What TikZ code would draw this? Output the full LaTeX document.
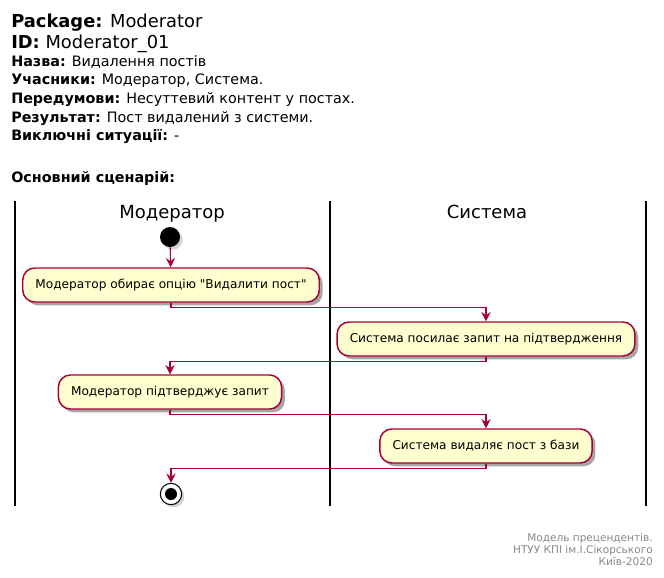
\documentclass[tikz,border=0pt]{standalone}
\usepackage{fontspec}
\setmainfont{DejaVu Sans}
\newfontfamily\plainq{DejaVu Sans}
\usepackage{tikz}
\usetikzlibrary{arrows.meta,shapes,shadows}
\definecolor{actfill}{HTML}{FEFECE}
\definecolor{actline}{HTML}{A80036}
\definecolor{notegray}{HTML}{888888}
\newcommand{\dq}{{\plainq\char34}}
\tikzstyle{activity}=[rectangle, draw=actline, fill=actfill
,line width=1.1pt
,rounded corners=9pt
,minimum height=25.5pt
,inner xsep=9.5pt
,font=\fontsize{9.1}{11}\selectfont
,drop shadow={shadow xshift=2.5pt, shadow yshift=-2.5pt, opacity=0.35, fill=black}
]
\tikzstyle{startnode}=[circle, fill=black, minimum size=15pt, inner sep=0pt
,drop shadow={shadow xshift=2pt, shadow yshift=-2pt, opacity=0.35}]
\tikzstyle{endnode}=[circle, draw=black, fill=white, line width=0.8pt, minimum size=16pt, inner sep=0pt
,drop shadow={shadow xshift=2pt, shadow yshift=-2pt, opacity=0.35}]
\tikzstyle{endcore}=[circle, fill=black, minimum size=9pt, inner sep=0pt]
\tikzstyle{flow} = [draw=actline, line width=0.8pt, -{Stealth[length=7pt,width=7pt,inset=2.5pt]}]
\tikzstyle{lane} = [draw, line width=1.2pt, -]
\tikzstyle{headline}=[anchor=base west, inner sep=0pt]

\begin{document}
\begin{tikzpicture}[x=0.75pt,y=-0.75pt]
    \useasboundingbox (0,0) rectangle (664,578);
    % Header of the use case
    \node[headline, font=\fontsize{13.4}{15}\selectfont] (pkg) at (11,27) {\textbf{Package:} Moderator};
    \node[headline, font=\fontsize{13.4}{15}\selectfont] (id) at (11,48) {\textbf{ID:} Moderator\_01};
    \foreach \y/\key/\val/\name in {66/Назва/{Видалення постів}/title, 84/Учасники/{Модератор, Система.}/actors,
        103/Передумови/{Несуттевий контент у постах.}/pre, 122/Результат/{Пост видалений з системи.}/post,
        140/Виключні ситуації/{-}/exc}
        \node[headline, font=\fontsize{10.75}{12}\selectfont] (\name) at (11,\y) {\textbf{\key:} \val};
    \node[headline, font=\fontsize{10.75}{12}\selectfont] (scen) at (11,182) {\textbf{Основний сценарій:}};

    % Swimlanes
    \foreach \x in {15,330,646}
        \path[lane] (\x,201) -- (\x,506);
    \node[anchor=base, inner sep=0pt, font=\fontsize{13.5}{15}\selectfont] (lmod) at (172,218) {Модератор};
    \node[anchor=base, inner sep=0pt, font=\fontsize{13.5}{15}\selectfont] (lsys) at (487,218) {Система};

    % Activities
    \node[startnode] (start) at (170,237) {};
    \node[activity] (act1) at (171,285) {Модератор обирає опцію \dq Видалити пост\dq};
    \node[activity] (act2) at (486,339) {Система посилає запит на підтвердження};
    \node[activity] (act3) at (170,392) {Модератор підтверджує запит};
    \node[activity] (act4) at (486,446) {Система видаляє пост з бази};
    \node[endnode] (stop) at (171,494) {};
    \node[endcore] (stopcore) at (stop) {};

    % Connect activities
    \path[flow] (start) -- (act1);
    \foreach \source/\dest in {act1/act2, act2/act3, act3/act4, act4/stop}
        \path[flow] (\source.south) -- ++(0,4.5) -| (\dest.north);

    % Footer
    \node[anchor=north east, align=right, inner sep=0pt, text=notegray
        ,font=\fontsize{7.9}{9.2}\selectfont] (foot) at (653,533)
        {Модель прецендентів.\\НТУУ КПІ ім.І.Сікорського\\Київ-2020};
\end{tikzpicture}
\end{document}
